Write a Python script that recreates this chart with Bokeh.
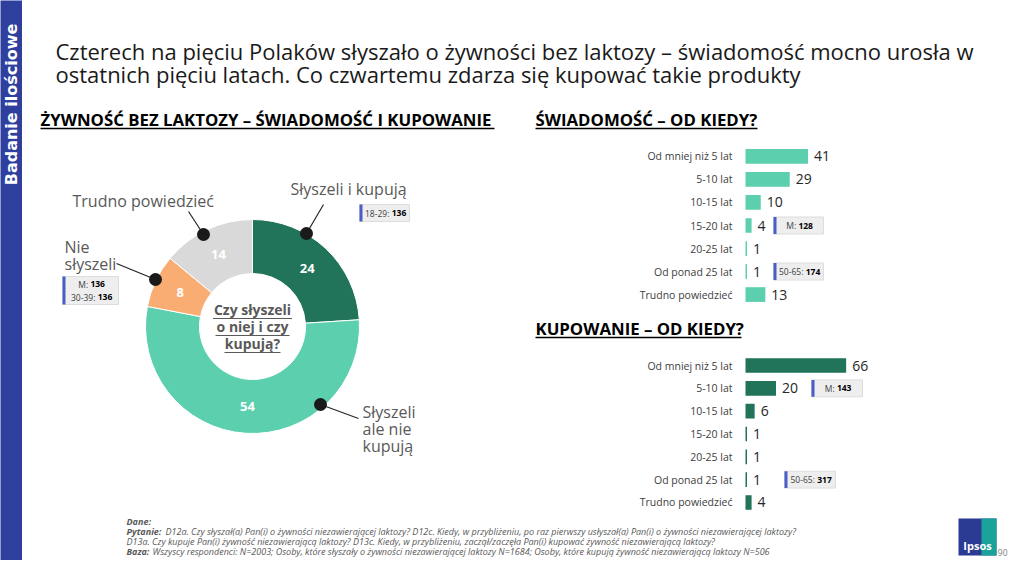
import numpy as np
from bokeh.plotting import figure
from bokeh.layouts import row, column
from bokeh.models import Range1d, FactorRange
from bokeh.embed import file_html
from bokeh.resources import INLINE
from bokeh.core.properties import value

# ---------------- data ----------------
sidebar_text = "Badanie ilościowe"
title_lines = [
    "Czterech na pięciu Polaków słyszało o żywności bez laktozy – świadomość mocno urosła w",
    "ostatnich pięciu latach. Co czwartemu zdarza się kupować takie produkty",
]
left_title = "ŻYWNOŚĆ BEZ LAKTOZY – ŚWIADOMOŚĆ I KUPOWANIE"
right_title_1 = "ŚWIADOMOŚĆ – OD KIEDY?"
right_title_2 = "KUPOWANIE – OD KIEDY?"

donut_labels = ["Słyszeli i kupują", "Słyszeli ale nie kupują", "Nie słyszeli", "Trudno powiedzieć"]
donut_values = [24, 54, 8, 14]
donut_colors = ["#21735a", "#5ccfae", "#f9ad72", "#d9d9d9"]
donut_center = ["Czy słyszeli", "o niej i czy", "kupują?"]

periods = ["Od mniej niż 5 lat", "5-10 lat", "10-15 lat", "15-20 lat",
           "20-25 lat", "Od ponad 25 lat", "Trudno powiedzieć"]
awareness = [41, 29, 10, 4, 1, 1, 13]
buying = [66, 20, 6, 1, 1, 1, 4]

aware_callouts = [("15-20 lat", "M: ", "128"), ("Od ponad 25 lat", "50-65: ", "174")]
buy_callouts = [("5-10 lat", "M: ", "143"), ("Od ponad 25 lat", "50-65: ", "317")]

footer_lines = [
    ("Dane:", ""),
    ("Pytanie:", "D12a. Czy słyszał(a) Pan(i) o żywności niezawierającej laktozy? D12c. Kiedy, w przybliżeniu, po raz pierwszy usłyszał(a) Pan(i) o żywności niezawierającej laktozy?"),
    ("", "D13a. Czy kupuje Pan(i) żywność niezawierającą laktozy? D13c. Kiedy, w przybliżeniu, zaczął/zaczęła Pan(i) kupować żywność niezawierającą laktozy?"),
    ("Baza:", "Wszyscy respondenci: N=2003; Osoby, które słyszały o żywności niezawierającej laktozy N=1684; Osoby, które kupują żywność niezawierającą laktozy N=506"),
]
page_number = "90"

# ---------------- style ----------------
FONT = "Open Sans"
BLUE = "#2e3f9e"
EDGE = "#4a5fc6"
GRAY_TXT = "#595959"
PX = 1.525  # pixels per percentage point in bar charts


def canvas(w, h, x0, y0, bg="white"):
    p = figure(width=w, height=h, x_range=Range1d(x0, x0 + w), y_range=Range1d(-(y0 + h), -y0),
               output_backend="svg", toolbar_location=None, min_border=0,
               x_axis_location=None, y_axis_location=None)
    p.grid.visible = False
    p.outline_line_color = None
    p.background_fill_color = bg
    p.border_fill_color = bg
    return p


def style_of(bold, italic):
    if bold and italic:
        return "bold italic"
    if bold:
        return "bold"
    if italic:
        return "italic"
    return "normal"


def txt(p, x, y, s, size, color="#000000", bold=False, italic=False, align="left",
        font=FONT, angle=0.0, x_offset=0):
    p.text(x=[x], y=[y], text=[s], text_font=value(font), text_font_size=f"{size}px",
           text_color=color, text_font_style=style_of(bold, italic), text_align=align,
           text_baseline="middle", angle=angle, x_offset=x_offset)


CW = {"M": 0.89, ":": 0.27, " ": 0.26, "-": 0.32}


def est_w(s, size, bold=False):
    w = 0.0
    for c in s:
        w += CW.get(c, 0.6 if bold else 0.572)
    return w * size


def callout_text(p, x_left_inner, box_w_inner_px, y, prefix, val, size=8.5):
    pw = est_w(prefix, size)
    vw = est_w(val, size, True)
    start = (box_w_inner_px - (pw + vw)) / 2
    txt(p, x_left_inner, y, prefix, size, "#404040", x_offset=start)
    txt(p, x_left_inner, y, val, size, "#000000", bold=True, x_offset=start + pw)


def canvas_callout(p, x0, x1, y0, y1, rows):
    p.quad(left=[x0], right=[x1], top=[-y0], bottom=[-y1], fill_color="#eeeeee", line_color="#dddddd")
    p.quad(left=[x0], right=[x0 + 3], top=[-y0], bottom=[-y1], fill_color=EDGE, line_color=None)
    for yc, prefix, val in rows:
        callout_text(p, x0 + 3, x1 - x0 - 3, -yc, prefix, val)


# ---------------- sidebar ----------------
side = canvas(22, 560, 0, 0, bg=BLUE)
txt(side, 11, -104, sidebar_text, 16, "white", bold=True, align="center",
    font="DejaVu Sans", angle=np.pi / 2)

# ---------------- header ----------------
head = canvas(986, 135, 22, 0)
txt(head, 55, -50, title_lines[0], 22, "#1a1a1a")
txt(head, 55, -73, title_lines[1], 22, "#1a1a1a")
txt(head, 40, -119, left_title, 16.8, "#000000", bold=True)
txt(head, 535, -119, right_title_1, 16.8, "#000000", bold=True)
head.segment(x0=[40, 535], y0=[-128, -128], x1=[494, 757], y1=[-128, -128],
             line_color="#000000", line_width=1.3)

# ---------------- donut ----------------
don = canvas(478, 380, 22, 135)
CX, CY = 252, -326
vals = np.array(donut_values, dtype=float)
cum = np.concatenate([[0], np.cumsum(vals)])
start = np.pi / 2 - 2 * np.pi * cum[:-1] / cum[-1]
end = np.pi / 2 - 2 * np.pi * cum[1:] / cum[-1]
don.annular_wedge(x=CX, y=CY, inner_radius=53, outer_radius=107,
                  start_angle=list(start), end_angle=list(end), direction="clock",
                  fill_color=donut_colors, line_color="white", line_width=1)
mid = (start + end) / 2
don.text(x=list(CX + 80 * np.cos(mid)), y=list(CY + 80 * np.sin(mid)),
         text=[str(v) for v in donut_values], text_font=value(FONT), text_font_size="13px",
         text_font_style="bold", text_color="white", text_align="center", text_baseline="middle")

for s, yy, w in zip(donut_center, [309, 326, 343], [79, 74, 56]):
    txt(don, CX, -yy, s, 14, GRAY_TXT, bold=True, align="center")
    don.segment(x0=[CX - w / 2], y0=[-(yy + 9)], x1=[CX + w / 2], y1=[-(yy + 9)],
                line_color=GRAY_TXT, line_width=1.2)

lead_x0 = [306, 320, 155, 203]
lead_y0 = [233, 404, 279, 234]
lead_x1 = [323, 358, 116, 188]
lead_y1 = [204, 418, 263, 211]
don.segment(x0=lead_x0, y0=[-v for v in lead_y0], x1=lead_x1, y1=[-v for v in lead_y1],
            line_color="#262626", line_width=1.2)
don.scatter(x=lead_x0, y=[-v for v in lead_y0], size=13, fill_color="#1a1a1a", line_color=None)

txt(don, 290, -188, donut_labels[0], 16, GRAY_TXT)
for k, s in enumerate(["Słyszeli", "ale nie", "kupują"]):
    txt(don, 362, -(411 + 17 * k), s, 16, GRAY_TXT)
txt(don, 64, -246, "Nie", 16, GRAY_TXT)
txt(don, 64, -263, "słyszeli", 16, GRAY_TXT)
txt(don, 72, -200, donut_labels[3], 16, GRAY_TXT)

canvas_callout(don, 359, 409, 204, 221, [(212.5, "18-29: ", "136")])
canvas_callout(don, 62, 118, 276, 304, [(283.5, "M: ", "136"), (296.5, "30-39: ", "136")])


# ---------------- bar charts ----------------
def bars(h, pad, values, color, callouts, box_px):
    left_px, right_px = 245, 508 - 245
    p = figure(width=508, height=h,
               y_range=FactorRange(factors=periods[::-1], range_padding=pad,
                                   range_padding_units="absolute"),
               x_range=Range1d(-left_px / PX, right_px / PX), output_backend="svg",
               toolbar_location=None, min_border=0,
               x_axis_location=None, y_axis_location=None)
    p.grid.visible = False
    p.outline_line_color = None
    p.hbar(y=periods, left=0, right=values, height=0.64, fill_color=color, line_color=None)
    p.text(x=values, y=periods, text=[str(v) for v in values], x_offset=6,
           text_font=value(FONT), text_font_size="14px", text_color="#262626",
           text_baseline="middle", text_align="left")
    p.text(x=0, y=periods, text=periods, x_offset=-13, text_font=value(FONT),
           text_font_size="10.5px", text_color="#404040", text_baseline="middle",
           text_align="right")
    for (cat, prefix, val), (bx0, bx1) in zip(callouts, box_px):
        l = (bx0 - 745) / PX
        r = (bx1 - 745) / PX
        p.rect(x=[(l + r) / 2], y=[cat], width=[r - l], height=0.74,
               fill_color="#eeeeee", line_color="#dddddd")
        e = 3 / PX
        p.rect(x=[l + e / 2], y=[cat], width=[e], height=0.74, fill_color=EDGE, line_color=None)
        callout_text(p, l + e, bx1 - bx0 - 3, cat, prefix, val)
    return p


bar1 = bars(180, 0.41, awareness, "#5ccfae", aware_callouts, [(773, 823), (773, 823)])
t2 = canvas(508, 37, 500, 315)
txt(t2, 535, -328, right_title_2, 16.8, "#000000", bold=True)
t2.segment(x0=[535], y0=[-337], x1=[741], y1=[-337], line_color="#000000", line_width=1.3)
bar2 = bars(163, 0.07, buying, "#21735a", buy_callouts, [(811, 862), (784, 835)])

# ---------------- footer ----------------
foot = canvas(986, 45, 22, 515)
fy = [521, 531, 541, 551]
pre_w = {"Dane:": 0, "Pytanie:": 39, "Baza:": 26}
for (b, rest), yy in zip(footer_lines, fy):
    if b:
        txt(foot, 126, -yy, b, 9, GRAY_TXT, bold=True, italic=True)
    if rest:
        txt(foot, 126 + pre_w.get(b, 0), -yy, rest, 9, GRAY_TXT, italic=True)
foot.quad(left=[958], right=[996], top=[-518], bottom=[-555], fill_color="#2b3a93", line_color=None)
foot.quad(left=[981], right=[996], top=[-518], bottom=[-555], fill_color="#1aa39b", line_color=None)
txt(foot, 977, -545, "Ipsos", 11, "white", bold=True, align="center")
txt(foot, 1007, -552, page_number, 8.5, "#7f7f7f", align="right")

layout = row(side, column(head, row(don, column(bar1, t2, bar2)), foot))

open("out.html", "w").write(file_html(layout, INLINE))
